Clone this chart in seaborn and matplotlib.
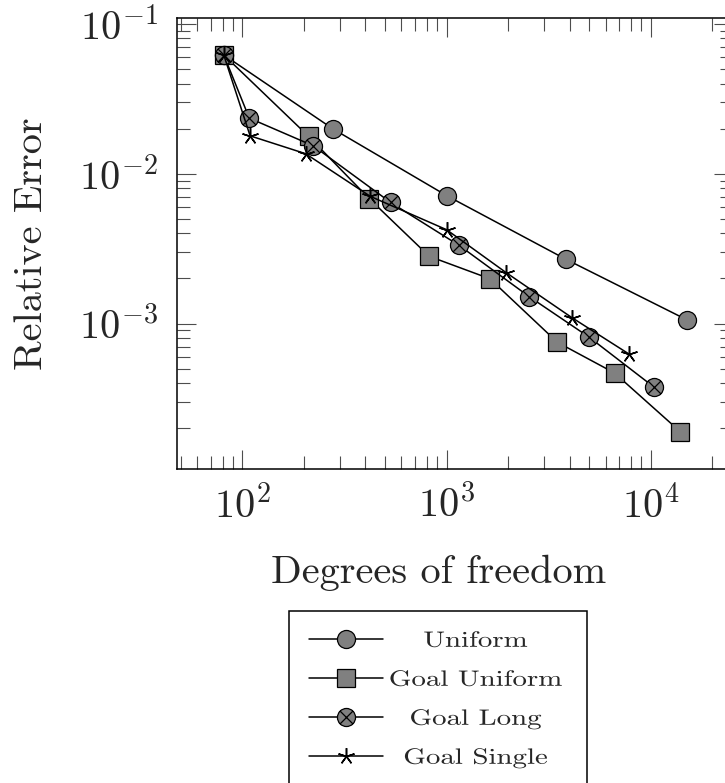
import numpy as np
import pandas as pd
import matplotlib
matplotlib.use("Agg")
import matplotlib.pyplot as plt
import seaborn as sns
from matplotlib.path import Path
from matplotlib.patheffects import AbstractPathEffect
from matplotlib.transforms import Affine2D
from matplotlib.ticker import LogLocator, NullFormatter, LogFormatterSciNotation

# ---------------- data ----------------
series_names = ["Uniform", "Goal Uniform", "Goal Long", "Goal Single"]

uniform_dofs = [81, 277, 1008, 3830, 15000]
uniform_err = [0.0621, 0.01995, 0.00710, 0.00269, 0.00106]

goal_uniform_dofs = [81, 211, 418, 822, 1630, 3486, 6640, 13930]
goal_uniform_err = [0.0621, 0.01774, 0.00681, 0.00281, 0.00199, 0.00075, 0.000468, 0.00019]

goal_long_dofs = [81, 108, 222, 531, 1153, 2541, 4990, 10380]
goal_long_err = [0.0621, 0.0235, 0.01537, 0.00644, 0.00332, 0.00151, 0.000811, 0.000376]

goal_single_dofs = [81, 109, 204, 423, 1000, 1954, 4100, 7850]
goal_single_err = [0.0621, 0.0179, 0.0136, 0.00706, 0.00423, 0.00219, 0.001097, 0.000624]

x_label = "Degrees of freedom"
y_label = "Relative Error"

# ---------------- style ----------------
sns.set_style("white")
plt.rcParams["font.family"] = ["cmr10", "DejaVu Serif"]
plt.rcParams["mathtext.fontset"] = "cm"
plt.rcParams["axes.formatter.use_mathtext"] = True

W, H, DPI = 725, 783, 100
fig = plt.figure(figsize=(W / DPI, H / DPI), dpi=DPI)
ax_l, ax_r, ax_t, ax_b = 177.0, 733.3, 17.7, 469.0
ax = fig.add_axes([ax_l / W, 1 - ax_b / H, (ax_r - ax_l) / W, (ax_b - ax_t) / H])

# circle with a cross inside
d = np.sqrt(0.5)
circle_x = Path.make_compound_path(
    Path.unit_circle(),
    Path([[-d, -d], [d, d]], [Path.MOVETO, Path.LINETO]),
    Path([[-d, d], [d, -d]], [Path.MOVETO, Path.LINETO]),
)

specs = [
    (uniform_dofs, uniform_err, "o", 13.0, 0.9),
    (goal_uniform_dofs, goal_uniform_err, "s", 13.0, 0.9),
    (goal_long_dofs, goal_long_err, circle_x, 13.0, 0.9),
    (goal_single_dofs, goal_single_err, (5, 2, 0), 12.0, 1.1),
]
data_lines = []
for name, (xs, ys, mk, ms, mew) in zip(series_names, specs):
    df = pd.DataFrame({x_label: xs, y_label: ys})
    n_before = len(ax.lines)
    sns.lineplot(data=df, x=x_label, y=y_label, ax=ax, estimator=None, sort=False,
                 color="black", linewidth=1.1, marker=mk, markersize=ms,
                 markerfacecolor="#808080", markeredgecolor="black",
                 markeredgewidth=mew, legend=False, zorder=3)
    data_lines.append(ax.lines[n_before])

ax.set_xscale("log")
ax.set_yscale("log")
ax.set_xlim(47.8, 25350)
ax.set_ylim(1.07e-4, 0.110)

for axis in (ax.xaxis, ax.yaxis):
    axis.set_major_locator(LogLocator(base=10, numticks=20))
    axis.set_minor_locator(LogLocator(base=10, subs=np.arange(2, 10), numticks=200))
    axis.set_major_formatter(LogFormatterSciNotation())
    axis.set_minor_formatter(NullFormatter())

ax.tick_params(which="both", direction="in", top=True, right=True,
               bottom=True, left=True, color="0.3", width=0.8)
ax.tick_params(which="major", length=13.7)
ax.tick_params(which="minor", length=9.6)
ax.tick_params(axis="x", which="major", labelsize=29, pad=11.5)
ax.tick_params(axis="y", which="major", labelsize=29, pad=14.0)
for sp in ax.spines.values():
    sp.set_color("black")
    sp.set_linewidth(1.1)
    sp.set_visible(True)

ax.set_xlabel(x_label, fontsize=29)
ax.set_ylabel(y_label, fontsize=29)
ax.xaxis.set_label_coords((438.5 - ax_l) / (ax_r - ax_l), (ax_b - 555) / (ax_b - ax_t))
ax.yaxis.set_label_coords((50 - ax_l) / (ax_r - ax_l), 0.5)


# ---------------- legend ----------------
class HStretch(AbstractPathEffect):
    """Stretch glyphs horizontally (wide small-size Computer Modern look)."""
    def __init__(self, sx=1.0):
        super().__init__()
        self._sx = sx

    def draw_path(self, renderer, gc, tpath, affine, rgbFace=None):
        renderer.draw_path(gc, tpath, Affine2D().scale(self._sx, 1.0) + affine, rgbFace)


SX = 1.30
FS_PT = 16.0
fs_px = FS_PT * DPI / 72.0
LEG_LEFT, LEG_TOP, LEG_W = 289.0, 611.0, 298.0
ROW_PITCH, TOP_TO_ROW0, TEXT_CX = 39.0, 28.0, 475.5


def make_legend(bp, ls, htp):
    leg = fig.legend(handles=data_lines, labels=series_names, loc="upper left",
                     bbox_to_anchor=(LEG_LEFT / W, 1 - LEG_TOP / H),
                     bbox_transform=fig.transFigure, borderaxespad=0.0,
                     borderpad=bp, labelspacing=ls, handletextpad=htp,
                     handlelength=74.0 / fs_px, numpoints=1, frameon=True,
                     fancybox=False, shadow=False, framealpha=1.0,
                     edgecolor="black", facecolor="white",
                     prop={"family": ["cmr10", "DejaVu Serif"], "size": FS_PT})
    leg.get_frame().set_linewidth(1.1)
    for t in leg.get_texts():
        t.set_path_effects([HStretch(SX)])
    return leg


bp0, ls0, htp0 = 0.64, 0.6, 0.5
leg = make_legend(bp0, ls0, htp0)
fig.canvas.draw()
r = fig.canvas.get_renderer()
frame = leg.get_frame().get_window_extent(r)
hbs = [h.get_window_extent(r) for h in leg.legend_handles]
yc = [(b.y0 + b.y1) / 2 for b in hbs]
pitch = yc[0] - yc[1]
top_to_row0 = frame.y1 - yc[0]
ls1 = ls0 + (ROW_PITCH - pitch) / fs_px
bp1 = bp0 + (TOP_TO_ROW0 - top_to_row0) / fs_px
htp1 = htp0 + (LEG_W - frame.width - 2 * (bp1 - bp0) * fs_px) / fs_px
leg.remove()
leg = make_legend(bp1, ls1, max(htp1, 0.0))
fig.canvas.draw()
r = fig.canvas.get_renderer()
for t in leg.get_texts():
    bb = t.get_window_extent(r)
    target_left = TEXT_CX - SX * bb.width / 2
    t.set_x(t.get_position()[0] + (target_left - bb.x0))

fig.savefig("out.png", dpi=DPI)
